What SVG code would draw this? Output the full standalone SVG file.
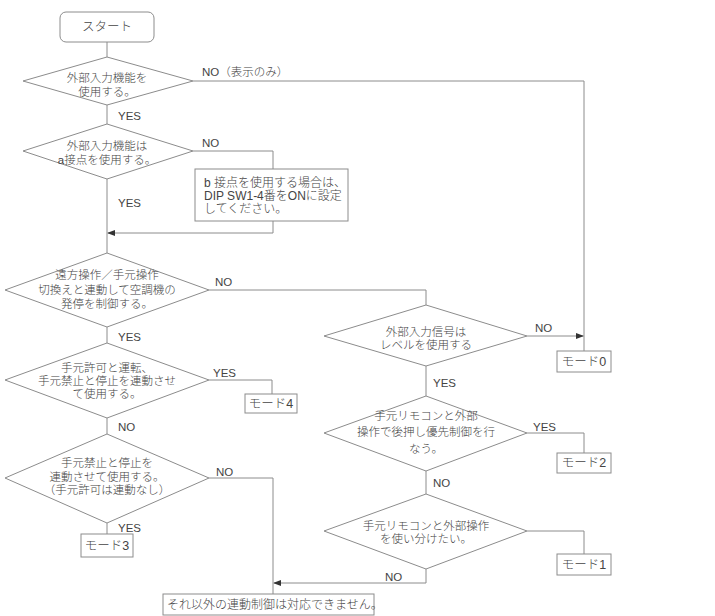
<svg xmlns="http://www.w3.org/2000/svg" width="715" height="616" viewBox="0 0 715 616">
<defs>
<marker id="arr" markerWidth="8" markerHeight="6" refX="7" refY="3" orient="auto" markerUnits="userSpaceOnUse">
<path d="M0,0 L8,3 L0,6 Z" fill="#333"/>
</marker>
<style>
.s{fill:#fff;stroke:#8c8c8c;stroke-width:1}
.c{fill:none;stroke:#8c8c8c;stroke-width:1}
text{font-family:"Liberation Sans","Noto Sans CJK JP",sans-serif;font-size:11.5px;fill:#444;font-weight:300}
.m{text-anchor:middle}
.n{font-size:12px}
.b{font-size:12.5px}
</style>
</defs>
<rect width="715" height="616" fill="#fff"/>
<g id="connectors">
<path class="c" d="M107,42 V57"/>
<path class="c" d="M107,105 V124"/>
<path class="c" d="M193,81 H584 V351"/>
<path class="c" d="M193,151 H273 V169"/>
<path class="c" d="M273,221 V233 H108" marker-end="url(#arr)"/>
<path class="c" d="M107,179 V253"/>
<path class="c" d="M209,290 H426 V305"/>
<path class="c" d="M527,336 H583" marker-end="url(#arr)"/>
<path class="c" d="M426,366 V396"/>
<path class="c" d="M527,433 H584 V453"/>
<path class="c" d="M426,471 V494"/>
<path class="c" d="M527,531 H584 V554"/>
<path class="c" d="M426,569 V583 H274" marker-end="url(#arr)"/>
<path class="c" d="M107,327 V343"/>
<path class="c" d="M209,380 H272 V394"/>
<path class="c" d="M107,418 V434"/>
<path class="c" d="M209,478 H273 V594"/>
<path class="c" d="M107,523 V534"/>
<text x="202" y="76">NO（表示のみ）</text>
<text x="118" y="120">YES</text>
<text x="202" y="147">NO</text>
<text x="118" y="207">YES</text>
<text x="215" y="286">NO</text>
<text x="535" y="332">NO</text>
<text x="433" y="387">YES</text>
<text x="533" y="431">YES</text>
<text x="433" y="487">NO</text>
<text x="385" y="581">NO</text>
<text x="118" y="341">YES</text>
<text x="213" y="377">YES</text>
<text x="118" y="431">NO</text>
<text x="216" y="476">NO</text>
<text x="118" y="532">YES</text>
</g>
<g id="start">
<rect class="s" x="60" y="12" width="94" height="30" rx="6"/>
<text class="m b" x="107" y="31">スタート</text>
</g>
<g id="d1">
<polygon class="s" points="107,57 193,81 107,105 23,81"/>
<text class="m" x="107" y="82">外部入力機能を<tspan x="107" dy="14">使用する。</tspan></text>
</g>
<g id="d2">
<polygon class="s" points="107,124 193,151 107,179 23,151"/>
<text class="m" x="107" y="150">外部入力機能は<tspan x="107" dy="14">a接点を使用する。</tspan></text>
</g>
<g id="note">
<rect class="s" x="195" y="169" width="153" height="52"/>
<text class="n" x="204" y="187">b 接点を使用する場合は、<tspan x="204" dy="13">DIP SW1-4番をONに設定</tspan><tspan x="204" dy="13">してください。</tspan></text>
</g>
<g id="d3">
<polygon class="s" points="107,253 209,290 107,327 5,290"/>
<text class="m" x="107" y="279">遠方操作／手元操作<tspan x="107" dy="15">切換えと連動して空調機の</tspan><tspan x="107" dy="14">発停を制御する。</tspan></text>
</g>
<g id="d4">
<polygon class="s" points="426,305 527,336 426,366 324,336"/>
<text class="m" x="426" y="336">外部入力信号は<tspan x="426" dy="13">レベルを使用する</tspan></text>
</g>
<g id="mode0">
<rect class="s" x="557" y="351" width="54" height="21"/>
<text class="m b" x="584" y="366">モード0</text>
</g>
<g id="d5">
<polygon class="s" points="426,396 527,433 426,471 324,433"/>
<text class="m" x="426" y="420">手元リモコンと外部<tspan x="426" dy="16">操作で後押し優先制御を行</tspan><tspan x="426" dy="17">なう。</tspan></text>
</g>
<g id="mode2">
<rect class="s" x="557" y="453" width="54" height="20"/>
<text class="m b" x="584" y="467">モード2</text>
</g>
<g id="d6">
<polygon class="s" points="426,494 527,531 426,569 324,531"/>
<text class="m" x="426" y="530">手元リモコンと外部操作<tspan x="426" dy="13">を使い分けたい。</tspan></text>
</g>
<g id="mode1">
<rect class="s" x="557" y="554" width="54" height="21"/>
<text class="m b" x="584" y="569">モード1</text>
</g>
<g id="dA">
<polygon class="s" points="107,343 209,380 107,418 5,380"/>
<text class="m" x="107" y="372">手元許可と運転、<tspan x="107" dy="13">手元禁止と停止を連動させ</tspan><tspan x="107" dy="13">て使用する。</tspan></text>
</g>
<g id="mode4">
<rect class="s" x="245" y="394" width="52" height="19"/>
<text class="m b" x="271" y="408">モード4</text>
</g>
<g id="d7">
<polygon class="s" points="107,434 209,478 107,523 5,478"/>
<text class="m" x="107" y="467">手元禁止と停止を<tspan x="107" dy="14">連動させて使用する。</tspan><tspan x="107" dy="13">（手元許可は連動なし）</tspan></text>
</g>
<g id="mode3">
<rect class="s" x="81" y="534" width="52" height="23"/>
<text class="m b" x="107" y="550">モード3</text>
</g>
<g id="end">
<rect class="s" x="163" y="594" width="211" height="21"/>
<text class="n" x="167" y="609">それ以外の連動制御は対応できません。</text>
</g>
</svg>
